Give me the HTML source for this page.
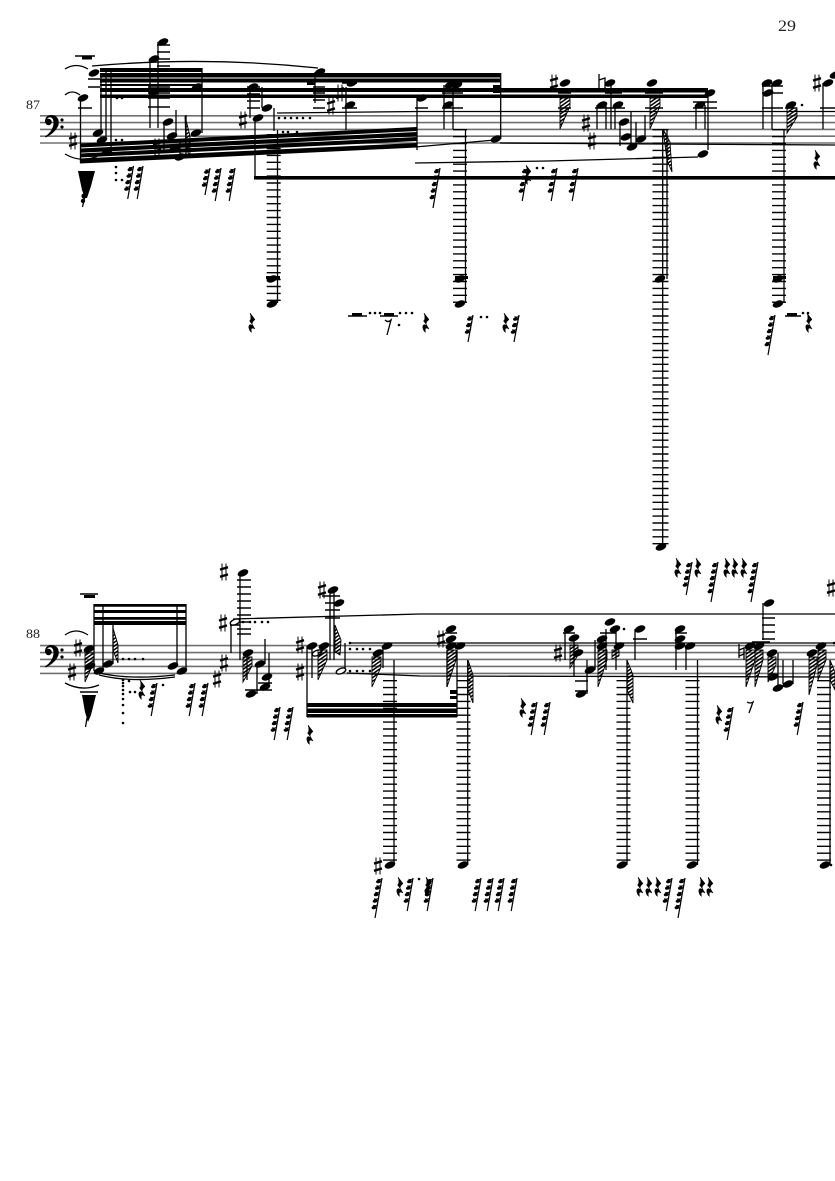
<!DOCTYPE html>
<html><head><meta charset="utf-8"><style>
html,body{margin:0;padding:0;background:#fff}
svg{display:block}
text{font-family:"Liberation Serif",serif;fill:#222}
</style></head><body>
<svg xmlns="http://www.w3.org/2000/svg" width="835" height="1181" viewBox="0 0 835 1181">
<defs>
<pattern id="h" width="3" height="3" patternUnits="userSpaceOnUse" patternTransform="rotate(-35)"><rect width="3" height="1.5" fill="#000"/></pattern>
<ellipse id="n" rx="5.6" ry="3.3" transform="rotate(-22)"/>
<g id="s" stroke="#000" fill="none"><path d="M-2-8.5V8.5M2-8.5V8.5" stroke-width="1"/><path d="M-4-2.4L4-4.8M-4 4.8L4 2.4" stroke-width="2.4"/></g>
<g id="z"><path d="M-2-10L3-3.5Q0-1 0 1L3 6Q-2 3-.5 9.5L-2 8Q-4.5 3-2 1.5L1 2.5L-2.5-2Q0-4-2-10Z" stroke="#000" stroke-width=".5"/></g>
<g id="b"><ellipse cx="-3" cy="0" rx="2.5" ry="1.7" transform="rotate(-15 -3 0)"/><path d="M-4-2.3Q-1.5-1.2 .9-3" stroke="#000" stroke-width=".9" fill="none"/></g>
<g id="r3"><path d="M0 0L-5 27" stroke="#000" stroke-width="1.2"/><use href="#b" x="-.5" y="4"/><use href="#b" x="-1.6" y="10.5"/><use href="#b" x="-2.8" y="17"/></g>
<g id="r4"><path d="M0 0L-5.8 33" stroke="#000" stroke-width="1.2"/><use href="#b" x="-.5" y="3.5"/><use href="#b" x="-1.6" y="10"/><use href="#b" x="-2.8" y="16.5"/><use href="#b" x="-3.9" y="23"/></g>
<g id="r5"><path d="M0 0L-7 40" stroke="#000" stroke-width="1.2"/><use href="#b" x="-.5" y="3.5"/><use href="#b" x="-1.6" y="10"/><use href="#b" x="-2.8" y="16.5"/><use href="#b" x="-3.9" y="23"/><use href="#b" x="-5" y="29.5"/></g>
<g id="c"><path d="M45 123Q44.5 115.5 51 115Q60 115.5 58.5 125Q55.5 133 45.5 137.5L45 136.5Q52.5 131.5 53.5 124Q53.8 117.5 50 117.2Q47.3 117.4 47 120Z"/><circle cx="48.5" cy="122" r="3.2"/><circle cx="62" cy="120" r="1.6"/><circle cx="62" cy="127" r="1.6"/></g>
</defs>

<text x="778" y="31" font-size="16" textLength="18" lengthAdjust="spacingAndGlyphs">29</text>
<text x="26" y="109" font-size="13" textLength="14" lengthAdjust="spacingAndGlyphs">87</text>
<text x="26" y="638" font-size="13" textLength="14" lengthAdjust="spacingAndGlyphs">88</text>

<!-- staves -->
<path d="M40 115.8H835M40 122.6H835M40 129.4H835M40 136.2H835M40 143H835M40 645.6H835M40 652.6H835M40 659.4H835M40 666.4H835M40 673.4H835" stroke="#707070" stroke-width="1.6" fill="none"/>
<use href="#c"/><use href="#c" y="530"/>

<!-- ties and slurs -->
<g fill="none" stroke="#000" stroke-width="1.3">
<path d="M65 69Q76 62 88 69M65 95Q72 89 80 95M65 154Q82 164 100 155M92 66Q205 56 318 68"/>
<path d="M277 113L420 111.5H835M415 147L495 140M500 143L835 145M415 163L548 161L698 157"/>
<path d="M65 635Q76 627 88 635M65 683Q82 692 99 685M99 673Q130 680 175 675M99 675Q130 683 175 677"/>
<path d="M233 619L420 614H835M350 643H835M347 673L420 676L835 677"/>
</g>

<!-- system 1 beams -->
<path d="M80 143.5L417 127V131L80 147.5ZM80 148.5L417 132V136.2L80 152.7ZM80 153.5L417 137V141L80 157.5ZM80 158.5L417 143V147.5L80 163.5Z"/>
<path d="M100 68H202V72H100ZM100 73H500V77.5H100ZM100 78.5H500V82.5H100ZM100 84H202V86H100ZM100 88H500V92H100ZM100 94.5H500V98H100ZM500 88H708V92.5H500ZM500 94.5H708V98H500Z"/>
<rect x="254" y="176" width="581" height="3.6"/>
<!-- system 1 stems -->
<path stroke="#000" stroke-width="1.3" fill="none" d="M80.5 98V163M101 73V133M106 70V140M111 72V152M150 59V128M158 42V128M164 122V152M176 110V137M180 140V157M186 115V155M202 68V133M250 85V118M255 118V178M262 87V108M274 108V131M315 72V103M346 87V130M417 98V150M444 85V129M453 85V129M500.7 73V139M597 105V129M606 105V129M611 83V129M615 105V129M620 122V146M631 112V146M636 122V146M645 115V139M696 105V129M705 105V129M708 93V150M763 83V129M772 83V129M823 83V129M277.5 130V303M465.5 129V303M662.7 129V547M667 129V279M784 129V303"/>
<!-- system 1 ledgers -->
<path stroke="#000" stroke-width="1.4" fill="none" d="M75 56H95M88 79H100M88 87H100M78 108H92M157 45H170M157 52H170M157 59H170M157 66H170M148 87H170M148 93H170M148 98H170M148 107H170M247 87H260M247 94H260M247 101H260M247 108H260M313 87H325M313 93H325M313 100H325M313 108H325M342 83H357M342 90H357M342 97H357M342 108H357M415 108H428M442 90H463M442 93H463M442 108H463M558 93H571M558 108H571M605 93H622M595 108H625M645 93H663M645 108H663M693 102H717M693 108H717M762 86H783M762 93H783M762 108H783M785 108H797M820 108H835M348 316H367M380 316H398M785 316H801"/>
<g fill="none" stroke="#000">
<path d="M273.7 134V304" stroke-width="14" stroke-dasharray="1.4 5.5"/>
<path d="M460 129V304" stroke-width="14" stroke-dasharray="1.4 5.5"/>
<path d="M660.5 129V547" stroke-width="16" stroke-dasharray="1.4 5.5"/>
<path d="M779 129V304" stroke-width="14" stroke-dasharray="1.4 5.5"/>
</g>
<!-- system 1 heads -->
<use href="#n" x="94" y="73"/><use href="#n" x="83" y="98"/><use href="#n" x="98" y="133"/><use href="#n" x="102" y="140"/><use href="#n" x="107" y="152"/><use href="#n" x="163" y="42"/><use href="#n" x="154" y="59"/><use href="#n" x="154" y="92"/><use href="#n" x="168" y="122"/><use href="#n" x="172" y="136"/><use href="#n" x="175" y="148"/><use href="#n" x="180" y="157"/><use href="#n" x="196" y="133"/><use href="#n" x="197" y="87"/><use href="#n" x="258" y="118"/><use href="#n" x="267" y="108"/><use href="#n" x="253" y="87"/><use href="#n" x="320" y="72"/><use href="#n" x="352" y="83"/><use href="#n" x="350" y="105"/><use href="#n" x="422" y="98"/><use href="#n" x="450" y="85"/><use href="#n" x="457" y="85"/><use href="#n" x="448" y="105"/><use href="#n" x="496" y="139"/><use href="#n" x="565" y="83"/><use href="#n" x="610" y="83"/><use href="#n" x="602" y="105"/><use href="#n" x="618" y="105"/><use href="#n" x="624" y="122"/><use href="#n" x="626" y="137"/><use href="#n" x="632" y="147"/><use href="#n" x="641" y="139"/><use href="#n" x="652" y="83"/><use href="#n" x="710" y="93"/><use href="#n" x="700" y="105"/><use href="#n" x="703" y="154"/><use href="#n" x="767" y="83"/><use href="#n" x="777" y="83"/><use href="#n" x="768" y="93"/><use href="#n" x="791" y="105"/><use href="#n" x="828" y="83"/><use href="#n" x="835" y="75"/><use href="#n" x="272" y="304"/><use href="#n" x="272" y="279"/><use href="#n" x="460" y="304"/><use href="#n" x="460" y="279"/><use href="#n" x="660" y="279"/><use href="#n" x="661" y="547"/><use href="#n" x="778" y="304"/><use href="#n" x="778" y="279"/>
<path d="M82 56.5H92V59.5H82ZM307 82H315V85H307ZM493 85H500V93H493ZM266 276H280V279H266ZM455 276H468V279H455ZM773 276H786V279H773Z"/>
<!-- sharps/natural s1 -->
<use href="#s" x="73" y="141"/><use href="#s" x="157" y="147"/><use href="#s" x="243" y="120"/><use href="#s" x="331" y="106"/><use href="#s" x="340" y="93"/><use href="#s" x="554" y="83"/><use href="#s" x="586" y="123"/><use href="#s" x="592" y="141"/><use href="#s" x="817" y="83"/>
<path d="M599 74V88M599 80L605 78V89L599 91" fill="none" stroke="#000" stroke-width="1.3"/>
<!-- hatches s1 -->
<g fill="url(#h)" stroke="#000" stroke-width=".9">
<polygon points="185,116 190,136 190,155 186,150"/>
<polygon points="560,98 570,98 570,106 560,129"/>
<polygon points="650,98 660,98 660,106 650,129"/>
<polygon points="787,108 797,108 797,117 787,133"/>
<polygon points="663,129 670,142 672,172 667,160"/>
</g>
<!-- rest wedge s1 -->
<path d="M78 171H95L91 186L87 198L85 198L82 190Z"/><path d="M85 196L82.5 207" stroke="#000" stroke-width="1.3"/>
<circle cx="84" cy="196" r="2.6"/><circle cx="83" cy="201" r="2.2"/>
<!-- s1 rests -->
<use href="#r4" x="133.5" y="166"/><use href="#r4" x="143" y="166"/><use href="#r3" x="210" y="168"/><use href="#r4" x="221" y="168"/><use href="#r4" x="235" y="168"/><use href="#r5" x="440" y="168"/><use href="#r4" x="528" y="168"/><use href="#z" x="528" y="175"/><use href="#r4" x="557" y="168"/><use href="#r4" x="578" y="168"/><use href="#z" x="817" y="160"/><use href="#z" x="252" y="323"/><use href="#z" x="426" y="323"/><use href="#r3" x="473" y="315"/><use href="#z" x="506" y="323"/><use href="#r3" x="519" y="315"/><use href="#r5" x="775" y="315"/><use href="#z" x="809" y="323"/>
<path d="M352 313H362V316H352ZM384 313H394V316H384ZM787 313H797V316H787Z"/><path d="M385 320Q388 323 391 320L387 335" fill="none" stroke="#000" stroke-width="1.3"/>
<!-- s1 dots -->
<path fill="none" stroke="#000" stroke-width="2.6" stroke-linecap="round" d="M116 167h0M116 173h0M116 180h0M122 180h0M117 98h0M122 98h0M116 140h0M122 140h0M279 118h0M285 118h0M291 118h0M297 118h0M303 118h0M310 118h0M283 132h0M288 132h0M297 132h0M537 168h0M543 168h0M802 105h0M370 313h0M375 313h0M380 313h0M400 313h0M406 313h0M412 313h0M399 325h0M481 317h0M487 317h0M803 313h0M808 313h0"/>

<!-- system 2 beams -->
<path d="M94 604H186V606.8H94ZM94 610H186V613H94ZM94 617H186V619.8H94ZM94 621H186V625H94ZM307 703H457V707H307ZM307 708.5H457V713H307ZM307 714H457V717.5H307ZM450 690H457V694H450ZM450 696H457V699H450Z"/>
<!-- system 2 stems -->
<path stroke="#000" stroke-width="1.3" fill="none" d="M94 604V671M103 604V671M113 625V664M177 604V666M186 604V671M240 573V660M231 622V653M247 653V680M265 639V664M269 653V687M257 664V694M307 646V717M312 646V678M330 590V660M334 590V660M345 643V671M383 646V668M457 650V717M447 650V687M394 660V865M467.7 660V865M565 629V660M574 638V677M587 660V694M595 640V670M606 629V670M616 629V670M627 660V865M635 629V660M676 629V670M686 646V670M697.5 660V865M763 603V640M778 653V688M783 660V684M793 660V684M830 660V865"/>
<!-- system 2 ledgers -->
<path stroke="#000" stroke-width="1.4" fill="none" d="M80 594H98M80 692H98M237 580H251M237 587H251M237 594H251M237 601H251M237 608H251M237 615H251M237 622H251M237 629H251M237 634H251M230 625H240M245 690H272M258 683H272M322 596H340M325 603H340M325 610H340M325 618H340M563 633H575M575 681H588M575 691H588M633 639H647M675 633H687M445 633H457M762 618H775M762 625H775M762 632H775M762 639H775M600 633H616M752 642H770"/>
<g fill="none" stroke="#000">
<path d="M390 680V866" stroke-width="14" stroke-dasharray="1.4 5.5"/>
<path d="M463.5 680V866" stroke-width="14" stroke-dasharray="1.4 5.5"/>
<path d="M623.5 680V866" stroke-width="14" stroke-dasharray="1.4 5.5"/>
<path d="M692.5 680V866" stroke-width="14" stroke-dasharray="1.4 5.5"/>
<path d="M824 680V866" stroke-width="14" stroke-dasharray="1.4 5.5"/>
</g>
<!-- system 2 heads -->
<use href="#n" x="89" y="649"/><use href="#n" x="90" y="666"/><use href="#n" x="99" y="671"/><use href="#n" x="108" y="664"/><use href="#n" x="173" y="666"/><use href="#n" x="182" y="671"/><use href="#n" x="243" y="573"/><use href="#n" x="248" y="653"/><use href="#n" x="260" y="664"/><use href="#n" x="267" y="677"/><use href="#n" x="251" y="694"/><use href="#n" x="265" y="687"/><use href="#n" x="312" y="646"/><use href="#n" x="324" y="646"/><use href="#n" x="333" y="590"/><use href="#n" x="339" y="603"/><use href="#n" x="387" y="646"/><use href="#n" x="378" y="653"/><use href="#n" x="451" y="629"/><use href="#n" x="451" y="639"/><use href="#n" x="451" y="646"/><use href="#n" x="460" y="646"/><use href="#n" x="569" y="629"/><use href="#n" x="574" y="638"/><use href="#n" x="578" y="653"/><use href="#n" x="581" y="694"/><use href="#n" x="590" y="670"/><use href="#n" x="610" y="622"/><use href="#n" x="615" y="629"/><use href="#n" x="602" y="639"/><use href="#n" x="602" y="646"/><use href="#n" x="619" y="646"/><use href="#n" x="640" y="629"/><use href="#n" x="680" y="629"/><use href="#n" x="680" y="639"/><use href="#n" x="680" y="646"/><use href="#n" x="690" y="646"/><use href="#n" x="750" y="646"/><use href="#n" x="759" y="646"/><use href="#n" x="769" y="603"/><use href="#n" x="772" y="653"/><use href="#n" x="773" y="677"/><use href="#n" x="778" y="688"/><use href="#n" x="788" y="684"/><use href="#n" x="812" y="653"/><use href="#n" x="821" y="646"/><use href="#n" x="390" y="865"/><use href="#n" x="463" y="865"/><use href="#n" x="622" y="865"/><use href="#n" x="692" y="865"/><use href="#n" x="825" y="865"/>
<g fill="#fff" stroke="#000" stroke-width="1.4"><ellipse cx="235" cy="622" rx="5" ry="2.6" transform="rotate(-22 235 622)"/><ellipse cx="317" cy="653" rx="5" ry="2.6" transform="rotate(-22 317 653)"/><ellipse cx="341" cy="671" rx="5" ry="2.6" transform="rotate(-22 341 671)"/></g>
<!-- s2 accidentals -->
<use href="#s" x="78" y="648"/><use href="#s" x="72" y="672"/><use href="#s" x="224" y="572"/><use href="#s" x="223" y="623"/><use href="#s" x="224" y="663"/><use href="#s" x="217" y="679"/><use href="#s" x="300" y="645"/><use href="#s" x="300" y="672"/><use href="#s" x="322" y="590"/><use href="#s" x="441" y="639"/><use href="#s" x="558" y="653"/><use href="#s" x="378" y="866"/><use href="#s" x="831" y="588"/>
<path d="M739 644V658M739 650L744 648V660M744 654L739 656" fill="none" stroke="#000" stroke-width="1.3"/>
<!-- s2 hatches -->
<g fill="url(#h)" stroke="#000" stroke-width=".9">
<polygon points="85,653 94,653 94,662 85,682"/>
<polygon points="113,628 118,645 118,663 113,650"/>
<polygon points="243,657 252,657 252,666 243,682"/>
<polygon points="318,650 327,650 327,660 318,680"/>
<polygon points="335,625 341,640 340,655 335,652"/>
<polygon points="372,657 381,657 381,667 372,687"/>
<polygon points="447,650 456,650 456,660 447,687"/>
<polygon points="468,660 473,675 473,703 468,690"/>
<polygon points="570,645 578,645 578,655 570,668"/>
<polygon points="598,650 607,650 607,660 598,687"/>
<polygon points="612,650 619,650 619,656 612,659"/>
<polygon points="627,660 633,675 633,703 627,690"/>
<polygon points="746,650 755,650 755,660 746,687"/>
<polygon points="755,650 763,650 763,660 755,687"/>
<polygon points="768,657 776,657 776,665 768,682"/>
<polygon points="809,657 817,657 817,665 809,695"/>
<polygon points="818,650 826,650 826,660 818,680"/>
<polygon points="830,660 835,672 835,690 830,680"/>
</g>
<path d="M84 595H95V598H84ZM82 695H96L91 715L88 722L85 712Z"/><path d="M87 718L85.5 727" stroke="#000" stroke-width="1.3"/>
<!-- s2 rests -->
<use href="#z" x="142" y="690"/><use href="#r4" x="157" y="683"/><use href="#r4" x="195" y="683"/><use href="#r4" x="208" y="683"/><use href="#r4" x="280" y="707"/><use href="#r4" x="293" y="707"/><use href="#z" x="310" y="735"/><use href="#z" x="523" y="708"/><use href="#r4" x="537" y="702"/><use href="#r4" x="550" y="702"/><use href="#z" x="719" y="715"/><use href="#r4" x="733" y="707"/><use href="#r4" x="803" y="702"/>
<path d="M747 702Q750 704 753 702L749 713" fill="none" stroke="#000" stroke-width="1.3"/>
<use href="#z" x="678" y="568"/><use href="#r4" x="692" y="562"/><use href="#z" x="698" y="568"/><use href="#r5" x="718" y="562"/><use href="#z" x="727" y="568"/><use href="#z" x="735" y="568"/><use href="#z" x="744" y="568"/><use href="#r5" x="758" y="562"/>
<use href="#r5" x="382" y="878"/><use href="#z" x="400" y="887"/><use href="#r4" x="413" y="878"/><use href="#z" x="428" y="887"/><use href="#r4" x="433" y="878"/><use href="#r4" x="481" y="878"/><use href="#r4" x="493" y="878"/><use href="#r4" x="504" y="878"/><use href="#r4" x="517" y="878"/><use href="#z" x="640" y="887"/><use href="#z" x="649" y="887"/><use href="#z" x="658" y="887"/><use href="#r4" x="672" y="878"/><use href="#r5" x="685" y="878"/><use href="#z" x="702" y="887"/><use href="#z" x="710" y="887"/>
<!-- s2 dots -->
<path fill="none" stroke="#000" stroke-width="2.6" stroke-linecap="round" d="M123 659h0M129 659h0M135 659h0M143 659h0M123 680h0M123 683h0M123 686h0M123 690h0M123 694h0M123 699h0M123 705h0M123 713h0M123 723h0M129 681h0M130 692h0M135 692h0M163 685h0M243 622h0M250 622h0M255 622h0M262 622h0M268 622h0M350 643h0M350 649h0M357 649h0M363 649h0M370 649h0M350 671h0M357 671h0M363 671h0M370 671h0M624 629h0M834 643h0M419 879h0M831 865h0"/>
</svg>
</body></html>
